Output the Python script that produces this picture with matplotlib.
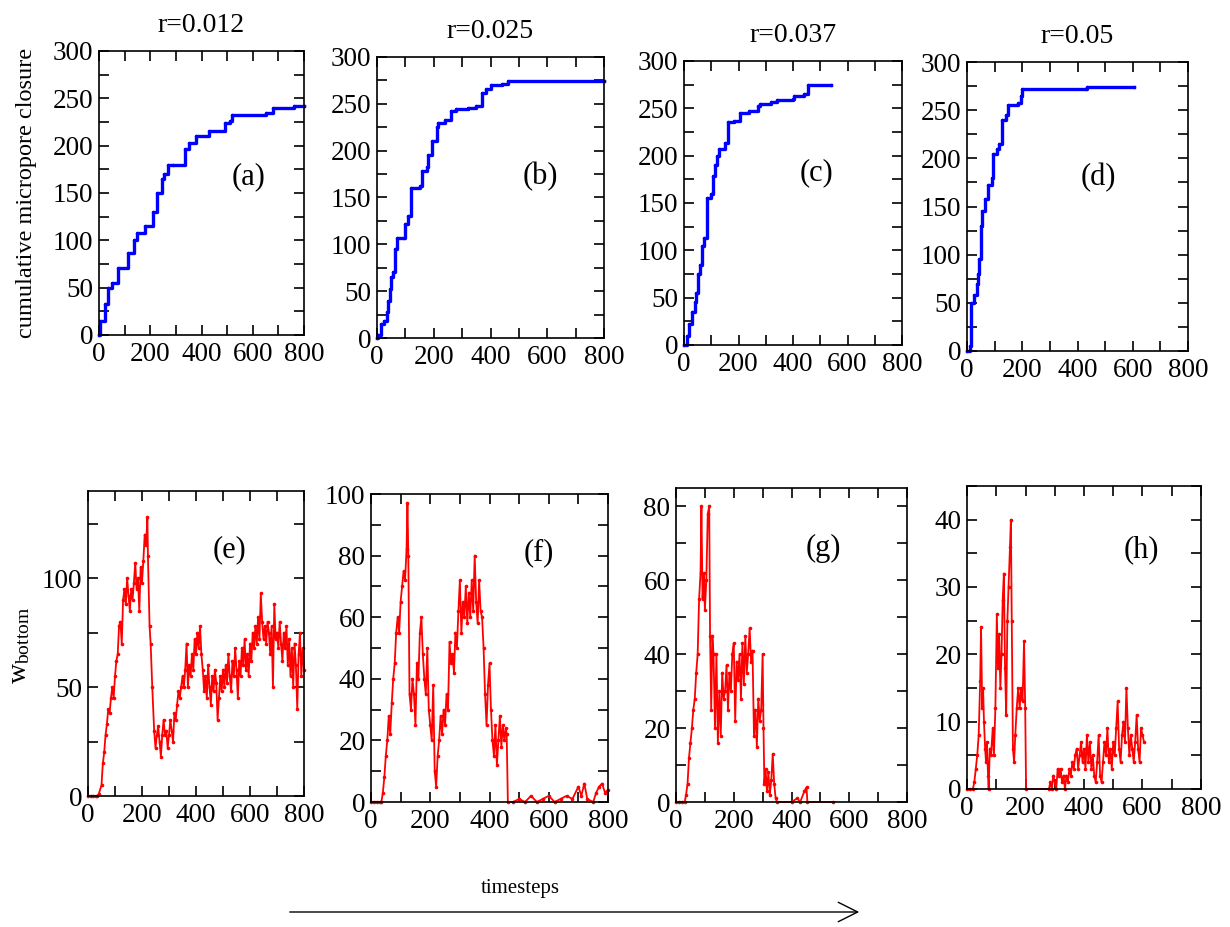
import matplotlib
matplotlib.use('Agg')
import matplotlib.pyplot as plt
from matplotlib.ticker import MultipleLocator

plt.rcParams['font.family'] = ['Liberation Serif', 'DejaVu Serif']
plt.rcParams['mathtext.fontset'] = 'custom'
plt.rcParams['mathtext.rm'] = 'Liberation Serif'
plt.rcParams['mathtext.it'] = 'Liberation Serif:italic'

# ---- data ----
titles = ['r=0.012', 'r=0.025', 'r=0.037', 'r=0.05']
labels_top = ['(a)', '(b)', '(c)', '(d)']
labels_bot = ['(e)', '(f)', '(g)', '(h)']

# cumulative micropore closure (step points: time, value)
a_t = [0, 5, 25, 35, 50, 75, 115, 135, 150, 180, 210, 225, 245, 255, 270, 290, 335, 350,
       380, 430, 490, 510, 520, 650, 680, 760, 800]
a_v = [0, 15, 33, 50, 55, 71, 87, 100, 108, 115, 130, 150, 165, 170, 180, 180, 197, 203,
       210, 215, 224, 226, 232, 234, 240, 242, 242]

b_t = [0, 5, 15, 25, 35, 40, 45, 50, 55, 65, 70, 95, 100, 110, 120, 150, 160, 175, 180, 195,
       210, 215, 240, 260, 280, 320, 350, 370, 385, 400, 440, 460, 800]
b_v = [0, 3, 15, 18, 28, 40, 52, 65, 70, 95, 107, 107, 122, 130, 160, 162, 178, 183, 195, 210,
       225, 230, 233, 242, 244, 246, 248, 262, 266, 270, 271, 274, 274]

c_t = [0, 10, 20, 30, 40, 45, 50, 60, 65, 75, 85, 100, 105, 115, 120, 130, 150, 160, 185,
       205, 240, 270, 280, 320, 340, 400, 405, 440, 455, 540]
c_v = [0, 10, 22, 35, 45, 55, 75, 85, 105, 113, 155, 160, 178, 190, 200, 207, 213, 236, 237,
       245, 247, 252, 255, 257, 259, 260, 263, 265, 275, 275]

d_t = [0, 10, 15, 25, 35, 40, 45, 50, 55, 65, 75, 90, 95, 110, 115, 125, 140, 150, 185, 195,
       200, 430, 435, 605]
d_v = [0, 5, 50, 58, 70, 80, 95, 130, 145, 158, 172, 180, 205, 210, 215, 240, 245, 255, 257,
       265, 272, 272, 274, 274]

# w_bottom
e_t = [0, 10, 20, 30, 35, 40, 50, 55, 60, 65, 70, 75, 80, 85, 90, 95, 100, 105, 110, 115, 120,
       125, 130, 135, 140, 145, 150, 155, 160, 165, 170, 175, 180, 185, 190, 195, 200, 205, 210,
       215, 220, 222, 228, 232, 238, 245, 250, 255, 260, 265, 270, 275, 280, 285, 290, 295, 300,
       305, 310, 315, 320, 325, 330, 335, 340, 345, 350, 355, 360, 365, 370, 375, 380, 385, 390,
       395, 400, 405, 410, 415, 420, 425, 430, 435, 440, 445, 450, 455, 460, 465, 470, 475, 480,
       485, 490, 495, 500, 505, 510, 515, 520, 525, 530, 535, 540, 545, 550, 555, 560, 565, 570,
       575, 580, 585, 590, 595, 600, 605, 610, 615, 620, 625, 630, 635, 640, 645, 650, 655, 660,
       665, 670, 675, 680, 685, 690, 695, 700, 705, 710, 715, 720, 725, 730, 735, 740, 745, 750,
       755, 760, 765, 770, 775, 780, 785, 790, 795, 800]
e_v = [0, 0, 0, 0, 0, 1, 5, 15, 20, 28, 33, 40, 38, 45, 50, 45, 55, 62, 65, 78, 80,
       70, 90, 95, 88, 100, 92, 85, 95, 90, 98, 107, 95, 100, 85, 105, 98, 108, 120,
       115, 128, 110, 78, 70, 50, 30, 22, 28, 32, 25, 18, 28, 35, 28, 30, 22, 28,
       35, 30, 25, 38, 35, 42, 48, 45, 50, 55, 50, 58, 70, 50, 60, 55, 65, 58,
       72, 65, 75, 68, 78, 65, 58, 48, 55, 45, 60, 50, 42, 55, 48, 58, 52, 35,
       45, 55, 48, 58, 50, 60, 52, 65, 55, 48, 62, 55, 68, 58, 45, 62, 55, 68,
       60, 72, 58, 65, 55, 70, 62, 75, 68, 78, 70, 82, 72, 93, 80, 72, 78, 70,
       80, 75, 65, 78, 50, 88, 72, 75, 68, 80, 70, 62, 75, 68, 78, 60, 72, 55,
       68, 50, 70, 60, 40, 65, 75, 55, 68, 58]

f_t = [0, 10, 20, 30, 35, 40, 45, 50, 55, 60, 65, 70, 75, 80, 85, 90, 95, 100, 105, 110, 115,
       120, 123, 126, 130, 135, 140, 145, 150, 155, 160, 165, 170, 175, 180, 185, 190, 195, 200,
       205, 210, 215, 220, 225, 230, 235, 240, 245, 250, 255, 260, 265, 270, 275, 280, 285, 290,
       295, 300, 305, 310, 315, 320, 325, 330, 335, 340, 345, 350, 355, 360, 365, 370, 375, 380,
       385, 390, 395, 400, 405, 410, 415, 420, 425, 430, 435, 440, 445, 450, 455, 458, 462, 480,
       500, 520, 540, 560, 580, 600, 620, 640, 660, 680, 700, 710, 720, 730, 750, 760, 770, 780,
       790, 800]
f_v = [0, 0, 0, 0, 0, 3, 8, 15, 20, 28, 22, 32, 40, 45, 55, 60, 55, 65, 70, 75, 72,
       82, 97, 80, 35, 30, 40, 35, 25, 45, 40, 55, 60, 48, 40, 35, 50, 30, 25,
       20, 38, 10, 5, 15, 20, 28, 22, 30, 25, 35, 30, 52, 45, 48, 42, 55, 50,
       62, 72, 55, 65, 60, 70, 58, 68, 60, 72, 62, 80, 65, 58, 72, 62, 60, 50,
       35, 25, 38, 45, 30, 20, 15, 25, 12, 20, 28, 18, 25, 20, 24, 22, 0, 0,
       1, 0, 2, 0, 1, 2, 0, 1, 2, 1, 5, 2, 6, 1, 0, 3, 5, 6,
       3, 4]

g_t = [0, 10, 20, 30, 35, 40, 45, 50, 55, 60, 65, 70, 75, 80, 85, 88, 92, 97, 100, 105, 110,
       115, 118, 122, 126, 130, 135, 140, 145, 150, 155, 160, 165, 170, 175, 180, 185, 190, 195,
       200, 205, 210, 215, 220, 225, 230, 235, 240, 245, 250, 255, 260, 265, 270, 275, 280, 285,
       290, 295, 300, 303, 306, 310, 315, 320, 325, 330, 335, 340, 345, 350, 400, 420, 430, 445,
       452, 455, 545]
g_v = [0, 0, 0, 0, 2, 5, 12, 16, 20, 25, 28, 35, 40, 55, 62, 80, 55, 62, 52, 60, 78,
       80, 45, 25, 45, 40, 20, 40, 16, 30, 18, 35, 28, 30, 37, 25, 35, 30, 40,
       43, 22, 38, 33, 40, 28, 43, 32, 45, 35, 40, 47, 38, 41, 18, 25, 15, 28,
       22, 25, 40, 20, 5, 9, 3, 8, 2, 6, 13, 5, 1, 0, 0, 1, 0, 3,
       4, 0, 0]

h_t = [0, 10, 20, 25, 30, 35, 40, 45, 48, 52, 55, 58, 62, 65, 68, 72, 74, 78, 82, 88, 92, 97,
       102, 106, 110, 114, 118, 122, 126, 130, 134, 138, 142, 147, 150, 153, 157, 161, 165, 170,
       175, 180, 185, 190, 195, 199, 202, 280, 285, 290, 295, 300, 305, 310, 315, 320, 325, 330,
       335, 340, 345, 350, 355, 360, 365, 370, 375, 380, 385, 390, 395, 400, 405, 410, 415, 420,
       425, 430, 435, 440, 445, 450, 455, 460, 465, 470, 475, 480, 485, 490, 495, 500, 505, 510,
       515, 520, 525, 530, 535, 540, 545, 550, 555, 560, 565, 570, 575, 580, 585, 590, 595, 600,
       605]
h_v = [0, 0, 0, 1, 3, 5, 8, 16, 24, 12, 15, 10, 6, 4, 7, 2, 0, 6, 5, 9, 5, 12,
       26, 18, 23, 15, 20, 28, 32, 18, 11, 25, 30, 36, 40, 25, 6, 4, 8, 12,
       15, 12, 15, 13, 22, 12, 0, 0, 1, 0, 2, 1, 0, 3, 2, 3, 1, 2,
       0, 2, 1, 3, 2, 4, 3, 5, 6, 3, 5, 7, 4, 6, 3, 8, 4, 7,
       3, 5, 2, 1, 4, 8, 2, 1, 4, 7, 5, 9, 4, 6, 3, 7, 5, 9,
       13, 6, 4, 8, 10, 7, 15, 9, 5, 8, 6, 4, 7, 11, 6, 4, 9, 8,
       7]

top_series = [(a_t, a_v), (b_t, b_v), (c_t, c_v), (d_t, d_v)]
bot_series = [(e_t, e_v), (f_t, f_v), (g_t, g_v), (h_t, h_v)]
bot_ylim = [140, 100, 85, 45]
bot_major = [50, 20, 20, 10]
bot_minor = [25, 10, 10, 5]

# ---- layout (pixel boxes: left, top, right, bottom) ----
W, H = 1230, 927
top_boxes = [(99, 51, 304, 335), (377, 57, 604, 338), (684, 61, 902, 345), (967, 62, 1188, 351)]
bot_boxes = [(88, 491, 304, 796), (371, 494, 608, 802), (676, 488, 907, 802), (967, 486, 1201, 789)]
top_lab_pos = [(0.73, 0.556), (0.72, 0.573), (0.61, 0.606), (0.593, 0.60)]
bot_lab_pos = [(0.657, 0.807), (0.709, 0.81), (0.636, 0.806), (0.744, 0.789)]


def box_to_rect(b):
    l, t, r, bt = b
    return [l / W, 1 - bt / H, (r - l) / W, (bt - t) / H]


def style_axes(ax, ymaj, ymin):
    ax.xaxis.set_major_locator(MultipleLocator(200))
    ax.xaxis.set_minor_locator(MultipleLocator(100))
    ax.yaxis.set_major_locator(MultipleLocator(ymaj))
    ax.yaxis.set_minor_locator(MultipleLocator(ymin))
    ax.tick_params(which='both', direction='in', top=True, right=True,
                   length=7, width=1.2, labelsize=19.5)
    ax.tick_params(axis='x', pad=5)
    ax.tick_params(axis='y', pad=4)
    for s in ax.spines.values():
        s.set_linewidth(1.2)


fig = plt.figure(figsize=(W / 100, H / 100), dpi=100)

for i in range(4):
    ax = fig.add_axes(box_to_rect(top_boxes[i]))
    t, v = top_series[i]
    ax.plot(t, v, drawstyle='steps-post', color='#0000ff', lw=2.4,
            marker='o', ms=1.5, clip_on=False)
    ax.set_xlim(0, 800)
    ax.set_ylim(0, 300)
    style_axes(ax, 50, 25)
    ax.set_title(titles[i], fontsize=20, pad=14)
    ax.text(*top_lab_pos[i], labels_top[i], transform=ax.transAxes,
            fontsize=22, ha='center', va='center')

for i in range(4):
    ax = fig.add_axes(box_to_rect(bot_boxes[i]))
    t, v = bot_series[i]
    ax.plot(t, v, color='#ff0000', lw=1.3, marker='o', ms=1.6, clip_on=False)
    ax.set_xlim(0, 800)
    ax.set_ylim(0, bot_ylim[i])
    style_axes(ax, bot_major[i], bot_minor[i])
    ax.text(*bot_lab_pos[i], labels_bot[i], transform=ax.transAxes,
            fontsize=22, ha='center', va='center')

fig.text(27 / W, 1 - 193 / H, 'cumulative micropore closure', rotation=90,
         fontsize=17.5, ha='center', va='center')
fig.text(20 / W, 1 - 645 / H, r'w$_{\mathregular{bottom}}$', rotation=90,
         fontsize=20, ha='center', va='center')

fig.text(520 / W, 1 - 888 / H, 'timesteps', fontsize=15, ha='center', va='center')
fig.add_artist(matplotlib.patches.FancyArrowPatch(
    (287 / W, 1 - 912 / H), (862 / W, 1 - 912 / H), transform=fig.transFigure,
    arrowstyle='->,head_length=14,head_width=7', mutation_scale=1,
    color='black', lw=1.0))

fig.savefig('out.png', dpi=100)
